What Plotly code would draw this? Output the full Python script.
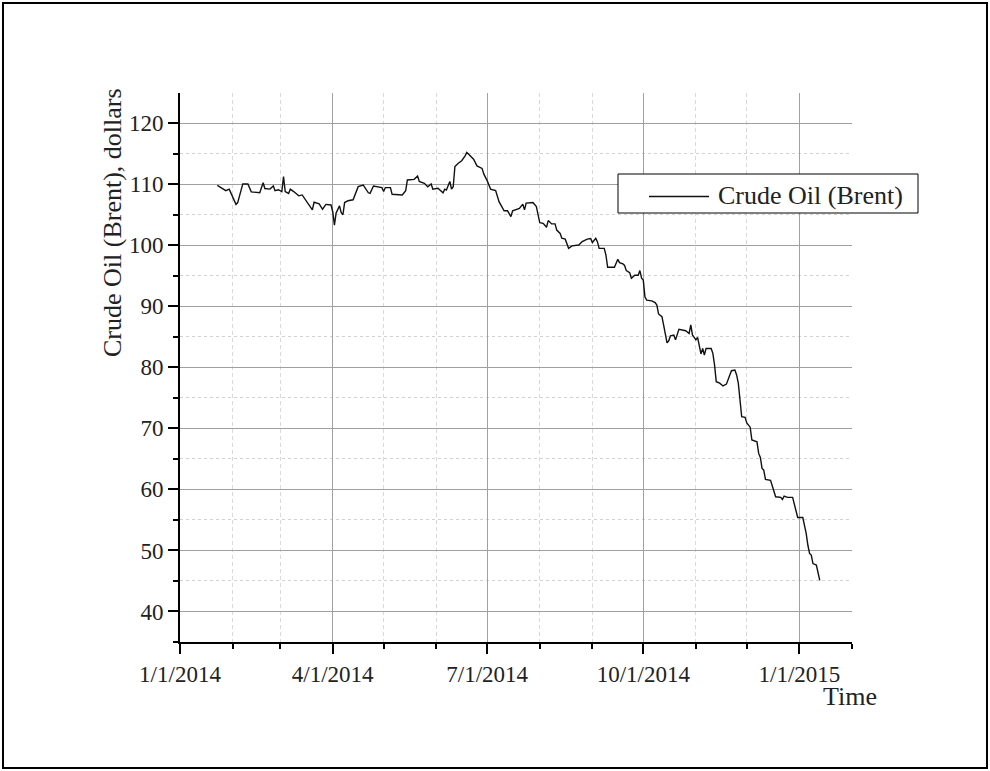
import plotly.graph_objects as go

# Data (Brent crude, dollars)
dates = [
    "2014-01-23", "2014-01-28", "2014-01-30", "2014-01-31", "2014-02-03", "2014-02-04",
    "2014-02-07", "2014-02-10", "2014-02-12", "2014-02-17", "2014-02-19", "2014-02-20",
    "2014-02-23", "2014-02-25", "2014-02-26", "2014-02-28", "2014-03-02", "2014-03-03",
    "2014-03-04", "2014-03-06", "2014-03-07", "2014-03-09", "2014-03-12", "2014-03-14",
    "2014-03-16", "2014-03-20", "2014-03-21", "2014-03-24", "2014-03-26", "2014-03-28",
    "2014-03-31", "2014-04-01", "2014-04-02", "2014-04-03", "2014-04-05", "2014-04-06",
    "2014-04-07", "2014-04-08", "2014-04-10", "2014-04-13", "2014-04-16", "2014-04-19",
    "2014-04-22", "2014-04-23", "2014-04-25", "2014-04-27", "2014-04-30", "2014-05-01",
    "2014-05-02", "2014-05-05", "2014-05-06", "2014-05-12", "2014-05-14", "2014-05-15",
    "2014-05-19", "2014-05-21", "2014-05-22", "2014-05-25", "2014-05-27", "2014-05-29",
    "2014-05-30", "2014-06-02", "2014-06-04", "2014-06-05", "2014-06-06", "2014-06-07",
    "2014-06-09", "2014-06-10", "2014-06-11", "2014-06-12", "2014-06-14", "2014-06-16",
    "2014-06-18", "2014-06-19", "2014-06-21", "2014-06-23", "2014-06-25", "2014-06-28",
    "2014-06-29", "2014-07-01", "2014-07-03", "2014-07-06", "2014-07-08", "2014-07-10",
    "2014-07-11", "2014-07-13", "2014-07-15", "2014-07-16", "2014-07-20", "2014-07-22",
    "2014-07-23", "2014-07-24", "2014-07-28", "2014-07-30", "2014-08-01", "2014-08-03",
    "2014-08-05", "2014-08-06", "2014-08-08", "2014-08-10", "2014-08-11", "2014-08-13",
    "2014-08-14", "2014-08-16", "2014-08-18", "2014-08-20", "2014-08-24", "2014-08-26",
    "2014-08-29", "2014-08-31", "2014-09-01", "2014-09-03", "2014-09-04", "2014-09-05",
    "2014-09-08", "2014-09-09", "2014-09-10", "2014-09-14", "2014-09-16", "2014-09-17",
    "2014-09-19", "2014-09-20", "2014-09-21", "2014-09-23", "2014-09-24", "2014-09-26",
    "2014-09-28", "2014-09-29", "2014-09-30", "2014-10-01", "2014-10-02", "2014-10-03",
    "2014-10-06", "2014-10-08", "2014-10-09", "2014-10-10", "2014-10-12", "2014-10-13",
    "2014-10-15", "2014-10-16", "2014-10-17", "2014-10-19", "2014-10-20", "2014-10-22",
    "2014-10-26", "2014-10-28", "2014-10-29", "2014-10-30", "2014-11-01", "2014-11-02",
    "2014-11-03", "2014-11-04", "2014-11-05", "2014-11-06", "2014-11-07", "2014-11-10",
    "2014-11-11", "2014-11-12", "2014-11-13", "2014-11-15", "2014-11-17", "2014-11-19",
    "2014-11-21", "2014-11-22", "2014-11-24", "2014-11-25", "2014-11-26", "2014-11-28",
    "2014-11-30", "2014-12-01", "2014-12-03", "2014-12-04", "2014-12-07", "2014-12-08",
    "2014-12-09", "2014-12-10", "2014-12-11", "2014-12-12", "2014-12-15", "2014-12-16",
    "2014-12-18", "2014-12-21", "2014-12-22", "2014-12-23", "2014-12-25", "2014-12-28",
    "2014-12-29", "2014-12-31", "2015-01-03", "2015-01-05", "2015-01-06", "2015-01-07",
    "2015-01-08", "2015-01-09", "2015-01-11", "2015-01-13",
]
brent = [
    109.8, 108.95, 109.2, 108.5, 106.7, 107.0,
    110.05, 110.05, 108.75, 108.6, 110.25, 109.3,
    109.2, 109.7, 108.95, 109.1, 108.8, 111.25,
    108.8, 108.5, 109.2, 108.8, 108.1, 108.25,
    107.4, 105.8, 107.05, 106.8, 105.9, 106.7,
    106.6, 105.5, 103.3, 105.3, 106.45, 105.35,
    105.0, 107.0, 107.3, 107.45, 109.6, 109.85,
    108.6, 108.5, 109.7, 109.6, 109.45, 108.8,
    109.45, 109.45, 108.35, 108.25, 108.95, 110.7,
    110.8, 111.35, 110.45, 110.15, 109.6, 110.05,
    109.2, 109.35, 108.95, 108.6, 109.2, 109.05,
    110.45, 109.2, 109.6, 112.9, 113.45, 113.85,
    114.65, 115.2, 114.65, 114.1, 113.0, 112.6,
    111.7, 110.6, 109.2, 108.95, 107.15, 106.05,
    105.65, 105.65, 104.7, 105.65, 106.05, 106.75,
    105.8, 106.9, 107.0, 106.35, 103.7, 103.6,
    102.95, 104.05, 103.5, 103.5, 102.5, 101.95,
    101.15, 101.0, 99.5, 99.9, 100.05, 100.6,
    101.0, 101.1, 100.45, 101.15, 100.55, 99.5,
    99.5, 98.4, 96.4, 96.4, 97.7, 97.15,
    96.95, 96.7, 95.85, 95.5, 94.6, 95.1,
    95.1, 95.85, 94.6, 94.3, 91.5, 91.0,
    90.9, 90.6, 90.2, 88.75, 88.3, 86.9,
    84.0, 84.35, 85.15, 85.3, 84.5, 86.25,
    86.0, 85.55, 86.95, 85.3, 84.5, 84.9,
    83.8, 82.2, 83.1, 82.0, 83.1, 83.1,
    82.3, 80.4, 77.65, 77.4, 76.95, 77.25,
    78.75, 79.45, 79.55, 78.75, 77.4, 71.9,
    71.8, 70.9, 70.2, 68.1, 67.8, 65.9,
    65.25, 63.45, 63.15, 61.65, 61.5, 60.45,
    58.8, 58.7, 58.35, 58.9, 58.7, 58.7,
    57.45, 55.4, 55.4, 52.8, 50.85, 49.5,
    49.25, 47.85, 47.6, 45.1,
]

series_name = "Crude Oil (Brent)"
x_title = "Time"
y_title = "Crude Oil (Brent), dollars"
x_range = ["2014-01-01", "2015-02-01"]
y_range = [35, 124.95]

FONT = "Liberation Serif"
W, H = 990, 771
ML, MR, MT, MB = 180, 138, 93, 129
PW, PH = W - ML - MR, H - MT - MB


def px(xp):
    return (xp - ML) / PW


def py(yp):
    return (H - MB - yp) / PH


fig = go.Figure()
fig.add_trace(go.Scatter(
    x=dates, y=brent, mode="lines", name=series_name,
    line=dict(color="#111111", width=1.4), showlegend=False,
))

axis_common = dict(
    showline=True, linewidth=2, linecolor="black",
    ticks="outside", ticklen=10, tickwidth=2, tickcolor="black",
    showgrid=True, gridcolor="#a0a0a0", gridwidth=1,
    zeroline=False, mirror=False,
    tickfont=dict(family=FONT, size=23, color="#222"),
)

fig.update_xaxes(
    type="date", range=x_range, dtick="M3", tick0="2014-01-01",
    tickformat="%-m/%-d/%Y",
    minor=dict(dtick="M1", tick0="2014-01-01", ticks="outside", ticklen=5,
               tickwidth=2, tickcolor="black", showgrid=True,
               gridcolor="#d9d9d9", griddash="4px,3px", gridwidth=1),
    **axis_common,
)
fig.update_yaxes(
    range=y_range, dtick=10, tick0=0,
    minor=dict(dtick=5, tick0=0, ticks="outside", ticklen=5,
               tickwidth=2, tickcolor="black", showgrid=True,
               gridcolor="#d2d2d2", griddash="dot", gridwidth=1),
    **axis_common,
)

shapes = [
    # outer frame
    dict(type="rect", xref="paper", yref="paper",
         x0=px(3), x1=px(987), y0=py(768), y1=py(3),
         line=dict(color="black", width=2), fillcolor="rgba(0,0,0,0)", layer="above"),
    # legend box
    dict(type="rect", xref="paper", yref="paper",
         x0=px(618), x1=px(918), y0=py(213), y1=py(174),
         line=dict(color="black", width=1), fillcolor="white", layer="above"),
    # legend sample line
    dict(type="line", xref="paper", yref="paper",
         x0=px(649), x1=px(709), y0=py(196.5), y1=py(196.5),
         line=dict(color="#111111", width=1.4), layer="above"),
]

annotations = [
    dict(text=series_name, xref="paper", yref="paper", x=px(716), y=py(195),
         xanchor="left", yanchor="middle", showarrow=False,
         font=dict(family=FONT, size=26, color="#222")),
    dict(text=y_title, xref="paper", yref="paper", x=px(113), y=py(223),
         xanchor="center", yanchor="middle", textangle=-90, showarrow=False,
         font=dict(family=FONT, size=26, color="#222")),
    dict(text=x_title, xref="paper", yref="paper", x=px(879), y=py(696),
         xanchor="right", yanchor="middle", showarrow=False,
         font=dict(family=FONT, size=26, color="#222")),
]

fig.update_layout(
    width=W, height=H,
    margin=dict(l=ML, r=MR, t=MT, b=MB, pad=0),
    paper_bgcolor="white", plot_bgcolor="white",
    shapes=shapes, annotations=annotations,
    showlegend=False,
)

fig.write_html("out.html")
